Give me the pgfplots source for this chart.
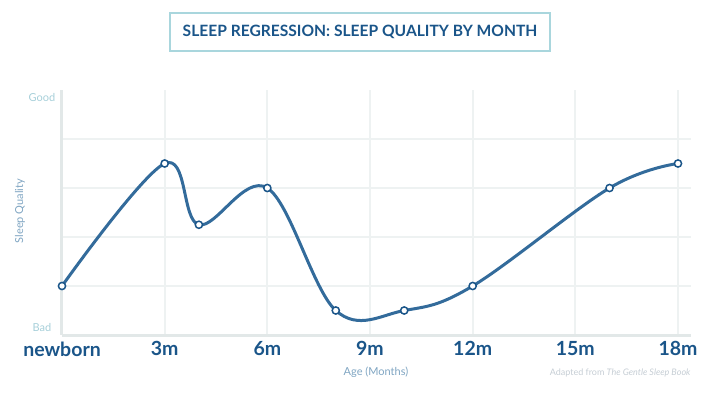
\documentclass[border=0pt]{standalone}
\usepackage{pgfplots}
\pgfplotsset{compat=1.18}
\usepackage{fontspec}
\setmainfont{Lato}
\definecolor{lineblue}{HTML}{336B9B}
\definecolor{darkblue}{HTML}{1A5589}
\definecolor{boxteal}{HTML}{A9D6DD}
\definecolor{lightteal}{HTML}{A6CFD9}
\definecolor{labelblue}{HTML}{7FA5C2}
\definecolor{gridc}{HTML}{EEF2F2}
\definecolor{axisc}{HTML}{E2E8E8}
\definecolor{footc}{HTML}{C5CDD4}
\begin{document}
\begin{tikzpicture}[x=1pt,y=1pt]
\useasboundingbox (-62,-65) rectangle (658,335);
\begin{axis}[at={(0,0)}, anchor=south west, scale only axis,
  width=629pt, height=245pt,
  xmin=0, xmax=18.38, ymin=0, ymax=5,
  axis lines*=left,
  axis line style={axisc, line width=3pt},
  xtick={0,3,6,9,12,15,18},
  xticklabels={newborn,3m,6m,9m,12m,15m,18m},
  ytick={1,2,3,4}, yticklabels={},
  grid=major, major grid style={gridc, line width=2pt},
  tick style={draw=none},
  xticklabel style={font=\fontsize{19.5}{19.5}\selectfont\bfseries, text=darkblue, yshift=-3pt},
  clip=false,
]
\addplot[lineblue, line width=3pt, smooth, tension=0.6, mark=*, mark size=3.6pt,
  mark options={fill=white, draw=darkblue, line width=1.5pt}]
  coordinates {(0,1) (3,3.5) (4,2.25) (6,3) (8,0.5) (10,0.5) (12,1) (16,3) (18,3.5)};
\node[text=lightteal, font=\fontsize{11}{11}\selectfont] at (axis cs:0,4.84) [xshift=-20pt] {Good};
\node[text=lightteal, font=\fontsize{11}{11}\selectfont] at (axis cs:0,0.16) [xshift=-20pt] {Bad};
\end{axis}
\node[rotate=90, text=labelblue, font=\fontsize{11}{11}\selectfont] at (-42,124) {Sleep Quality};
\node[text=labelblue, font=\fontsize{11}{11}\selectfont] at (314,-37) {Age (Months)};
\node[anchor=east, text=footc, font=\fontsize{9}{9}\selectfont] at (632,-38) {Adapted from \textit{The Gentle Sleep Book}};
\node[draw=boxteal, line width=2pt, minimum width=380pt, minimum height=38pt,
  text=darkblue, font=\fontsize{15.6}{15.6}\selectfont\bfseries] at (298,303) {SLEEP REGRESSION: SLEEP QUALITY BY MONTH};
\end{tikzpicture}
\end{document}
